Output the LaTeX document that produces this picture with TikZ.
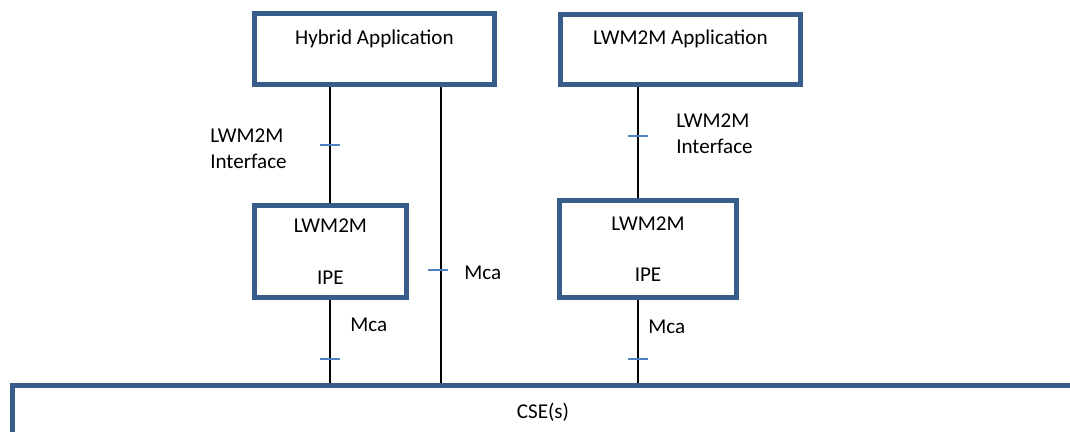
\documentclass[tikz,border=0pt]{standalone}
\usepackage{fontspec}
\setmainfont{Carlito}
\usepackage{tikz}

\definecolor{boxblue}{HTML}{385D8A}
\definecolor{tickblue}{HTML}{4F81BD}

\tikzset{
	appbox/.style={draw=boxblue, line width=0.125cm, rectangle, align=center, inner sep=0pt},
	toptext/.style={text depth=17pt},
	link/.style={line width=0.05cm},
	tickmark/.style={fill=tickblue, inner sep=0pt, minimum width=0.5cm, minimum height=0.045cm},
	lbl/.style={anchor=west, align=left, inner sep=0pt}
}

\begin{document}
\begin{tikzpicture}[font=\fontsize{15}{18.3}\selectfont]
	\useasboundingbox (0,0) rectangle (26.75,10.8);
	\clip (0,0) rectangle (26.75,10.8);
	% boxes
	\node[appbox, toptext, minimum width=6cm, minimum height=1.775cm] (hyb) at (9.36,9.575) {Hybrid Application};
	\node[appbox, toptext, minimum width=6cm, minimum height=1.75cm] (app) at (17.01,9.5625) {LWM2M Application};
	\node[appbox, minimum width=3.8cm, minimum height=2.3cm] (ipe1) at (8.26,4.51) {LWM2M\\[18.3pt]IPE};
	\node[appbox, minimum width=4.425cm, minimum height=2.425cm] (ipe2) at (16.2,4.575) {LWM2M\\[18.3pt]IPE};
	\node[appbox, minimum width=26.5cm, minimum height=1.3cm] (cse) at (13.575,0.5) {CSE(s)};
	% connectors
	\coordinate (mca) at (11.025,0);
	\coordinate (lwm) at (15.95,0);
	\draw[link] (ipe1.north |- hyb.south) -- (ipe1.north);
	\draw[link] (ipe1.south) -- (ipe1.south |- cse.north);
	\draw[link] (mca |- hyb.south) -- (mca |- cse.north);
	\draw[link] (lwm |- app.south) -- (lwm |- ipe2.north);
	\draw[link] (lwm |- ipe2.south) -- (lwm |- cse.north);
	% reference points
	\foreach \x/\y [count=\i] in {8.26/7.175, 10.96/4.05, 8.26/1.825, 15.95/7.4, 15.95/1.825}
	{
		\node[tickmark] (tick\i) at (\x,\y) {};
	}
	% labels
	\node[lbl] (ifl) at (5.25,7.09) {LWM2M\\Interface};
	\node[lbl] (ifr) at (16.9,7.45) {LWM2M\\Interface};
	\node[lbl] (mcar) at (11.6,3.98) {Mca};
	\node[lbl] (mcal) at (8.75,2.675) {Mca};
	\node[lbl] (mcad) at (16.2,2.625) {Mca};
\end{tikzpicture}
\end{document}
